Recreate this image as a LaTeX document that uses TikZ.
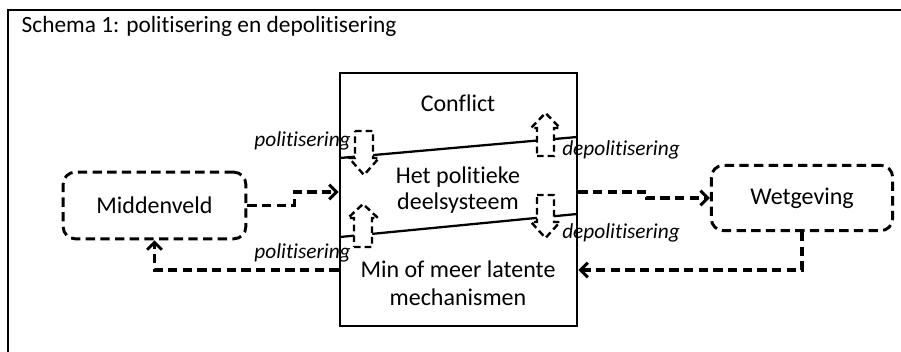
\documentclass[tikz,border=0pt]{standalone}
\usepackage{fontspec}
\setsansfont{Carlito}[Ligatures={NoCommon}]
\usetikzlibrary{arrows.meta}
\tikzset{every picture/.style={/utils/exec={\sffamily}}}
\tikzset{
  blok/.style={draw, line width=2.1pt, inner sep=0pt},
  veld/.style={draw, line width=2.2pt, rounded corners=9pt, dash pattern=on 7pt off 4pt},
  stroom/.style={line width=2.3pt, dash pattern=on 7pt off 4pt, -{Straight Barb[length=5.5pt,width=11pt,line width=2.2pt]}},
  pijl/.style={draw, fill=white, line width=1.8pt, dash pattern=on 5pt off 3pt},
  tekst/.style={font=\fontsize{18}{21}\selectfont, align=center},
  proces/.style={font=\fontsize{16}{19}\selectfont\itshape, inner sep=0pt}
}

\begin{document}
\begin{tikzpicture}[x=0.75pt, y=-0.75pt]

  \useasboundingbox (0,0) rectangle (901,352);
  \draw [line width=2.1pt] (8,352) -- (8,10) -- (901,10);
  \node [anchor=base west, font=\fontsize{17.5}{21}\selectfont] (titel) at (17,33) {Schema 1: politisering en depolitisering};

  % het politieke systeem:
  \node [blok, minimum width=177.75pt, minimum height=189.75pt] (sys) at (458.5,199.5) {};
  \draw [line width=1.7pt] (340,158) -- (577,137);
  \draw [line width=1.7pt] (340,237) -- (577,214);

  \node [tekst] (conflict) at (458,103) {Conflict};
  \node [tekst] (deel) at (458,190) {Het politieke\\[-1pt]deelsysteem};
  \node [tekst] (latent) at (458,283) {Min of meer latente\\mechanismen};

  % pijlen omhoog en omlaag:
  \draw [pijl] (355,131) -- ++(18,0) -- ++(0,27) -- ++(6,0) -- ++(-15,17) -- ++(-15,-17) -- ++(6,0) -- cycle;
  \draw [pijl] (537,156) -- ++(17,0) -- ++(0,-28) -- ++(6,0) -- ++(-14.5,-15) -- ++(-14.5,15) -- ++(6,0) -- cycle;
  \draw [pijl] (537,195) -- ++(17,0) -- ++(0,27) -- ++(6,0) -- ++(-14.5,16) -- ++(-14.5,-16) -- ++(6,0) -- cycle;
  \draw [pijl] (354,247) -- ++(18,0) -- ++(0,-29) -- ++(6,0) -- ++(-15,-14) -- ++(-15,14) -- ++(6,0) -- cycle;

  \node [proces, anchor=east] (pol1) at (351,141) {politisering};
  \node [proces, anchor=west] (depol1) at (562,150) {depolitisering};
  \node [proces, anchor=west] (depol2) at (562,233) {depolitisering};
  \node [proces, anchor=east] (pol2) at (351,253) {politisering};

  % middenveld en wetgeving:
  \node [veld, tekst, minimum width=137pt, minimum height=50pt] (mid) at (154.5,205.5) {Middenveld};
  \node [veld, tekst, minimum width=136pt, minimum height=49pt] (wet) at (802,198) {Wetgeving};

  \draw [stroom] (mid.east) -- ++(47,0) |- ([yshift=5.6pt]sys.west);
  \draw [stroom] ([yshift=5.6pt]sys.east) -- ++(68,0) |- (wet.west);
  \draw [stroom] (wet.south) |- ([yshift=-52.9pt]sys.east);
  \draw [stroom] ([yshift=-52.9pt]sys.west) -| (mid.south);

\end{tikzpicture}
\end{document}
